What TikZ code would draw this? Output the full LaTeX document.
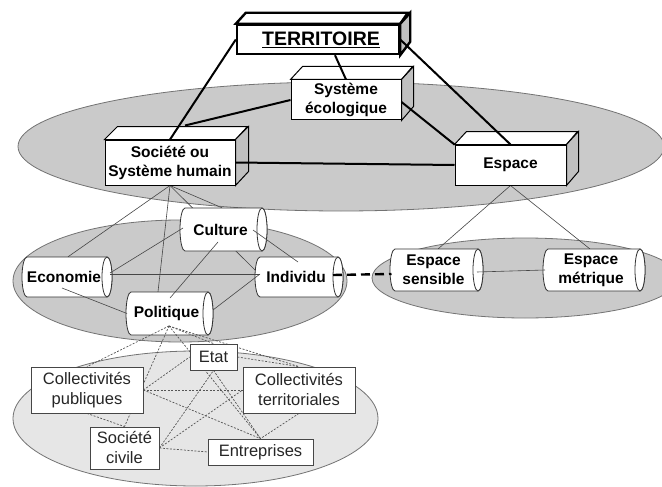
\documentclass[tikz,border=0pt]{standalone}
\usepackage{fontspec}
\setmainfont{Liberation Sans}
\usetikzlibrary{calc}
\pgfdeclarelayer{ellayer}
\pgfdeclarelayer{under}
\pgfdeclarelayer{top}
\pgfsetlayers{ellayer,under,main,top}
\definecolor{ellfill}{RGB}{202,202,202}
\definecolor{ellfillb}{RGB}{230,230,230}
\definecolor{elledge}{RGB}{115,115,115}
\definecolor{sideface}{RGB}{192,192,192}
\definecolor{lngray}{RGB}{70,70,70}
\definecolor{cyledge}{RGB}{50,50,50}
\definecolor{dotgray}{RGB}{85,85,85}
\definecolor{boxedge}{RGB}{70,70,70}
\tikzset{
 ell/.style={draw=elledge, line width=0.8pt, fill=ellfill},
 ellb/.style={draw=elledge, line width=0.8pt, fill=ellfillb},
 cube/.style={draw=black, line width=1pt, fill=white, inner sep=0pt, align=center, font=\bfseries\fontsize{15.5}{19}\selectfont},
 cubethick/.style={cube, line width=2.4pt},
 thickln/.style={draw=black, line width=2pt},
 thinln/.style={draw=lngray, line width=0.6pt},
 cylsh/.style={draw=cyledge, line width=0.8pt, fill=white},
 cyltxt/.style={inner sep=0pt, align=center, font=\bfseries\fontsize{15.5}{19}\selectfont},
 dashln/.style={draw=black, line width=2.4pt, dash pattern=on 9pt off 5pt},
 dotln/.style={draw=dotgray, line width=0.7pt, dash pattern=on 2pt off 1.5pt},
 rbox/.style={draw=boxedge, line width=0.8pt, fill=white, inner sep=0pt, align=center, text=black!85, font=\fontsize{16.5}{20}\selectfont},
}
% 3D box: name, cx, cy, w, h, dx, dy, text, style
\newcommand{\cubebox}[9]{%
 \node[#9, minimum width=#4, minimum height=#5] (#1) at (#2,#3) {#8};
 \draw[#9, fill=white] (#1.north west) -- ++(#6,-#7) -- ++(#4,0) -- (#1.north east) -- cycle;
 \draw[#9, fill=sideface] (#1.north east) -- ++(#6,-#7) -- ++(0,#5) -- (#1.south east) -- cycle;
}
% horizontal cylinder: name, x1, y1, x2, y2, text
\newcommand{\cylnd}[6]{%
 \path[cylsh] ({#2+5},#3) -- ({#4-5},#3) arc[start angle=-90,end angle=90,x radius=5,y radius={(#5-#3)/2}] -- ({#2+5},#5) arc[start angle=90,end angle=270,x radius=5,y radius={(#5-#3)/2}] -- cycle;
 \path[cylsh] ({#4-5},{(#3+#5)/2}) ellipse [x radius=5,y radius={(#5-#3)/2}];
 \node[cyltxt, minimum width={#4-#2-10}, minimum height={#5-#3}] (#1) at ({(#2+#4)/2-3},{(#3+#5)/2}) {#6};
}
\begin{document}
\begin{tikzpicture}[x=1pt,y=-1pt]
\useasboundingbox (0,0) rectangle (662,487);
\begin{pgfonlayer}{ellayer}
 \fill[white] (0,0) rectangle (662,487);
 \draw[ell] (341,146.5) ellipse [x radius=323, y radius=64.5];
 \draw[ell] (180,281) ellipse [x radius=167, y radius=61];
 \draw[ell] (525,278) ellipse [x radius=153, y radius=40];
 \draw[ellb] (195.5,418.5) ellipse [x radius=182.5, y radius=67.5];
\end{pgfonlayer}

% top 3D boxes
\cubebox{terr}{318}{39.5}{162}{29}{10}{11}{{\fontsize{19.5}{22}\selectfont\hspace*{6pt}\underline{TERRITOIRE}}}{cubethick}
\cubebox{seco}{346}{100}{110}{40}{12}{13}{Système\\écologique}{cube}
\cubebox{soc}{170}{162.5}{130}{45}{13}{13}{Société ou\\Système humain}{cube}
\cubebox{esp}{510.5}{165}{111}{40}{12}{13}{Espace}{cube}

% thick connectors
\draw[thickln] (terr.west) -- (soc.north);
\draw[thickln] (terr.east) -- (esp.north);
\draw[thickln] ($(terr.south)+(17,0)$) -- (seco.north);
\draw[thickln] (seco.west) -- ($(soc.north)+(15,-14)$);
\draw[thickln] ($(seco.east)+(0,2)$) -- (esp.north west);
\draw[thickln] (soc.east) -- (esp.west);

% cylinders
\cylnd{cult}{180}{208}{267}{251}{Culture}
\cylnd{eco}{22}{257}{112}{297}{Economie}
\cylnd{indiv}{255}{257}{343}{297}{Individu}
\cylnd{polit}{126}{292}{213}{335}{Politique}
\cylnd{esens}{390}{249}{483}{291}{Espace\\sensible}
\cylnd{emetr}{543}{249}{645}{291}{Espace\\métrique}

% thin connectors under the shapes
\begin{pgfonlayer}{under}
 \draw[thinln] (soc.south) -- ($(eco.north)+(4,0)$);
 \draw[thinln] (soc.south) -- ($(polit.north)+(-8.5,0)$);
 \draw[thinln] (soc.south) -- ($(cult.north)+(1.5,0)$);
 \draw[thinln] (soc.south) -- ($(indiv.center)+(-39,-5)$);
 \draw[thinln] (esp.south) -- ($(esens.center)+(4.5,-21)$);
 \draw[thinln] (esp.south) -- ($(emetr.center)+(-1,-21)$);
\end{pgfonlayer}

% thin connectors over the shapes
\coordinate (hub) at ($(indiv.center)+(-36,-3)$);
\draw[thinln] ($(eco.center)+(46,-3)$) -- (hub);
\draw[thinln] ($(cult.center)+(-37.5,-1.5)$) -- ($(eco.center)+(46,-4)$);
\draw[thinln] ($(cult.center)+(-2.5,12.5)$) -- ($(polit.center)+(3.5,-15.5)$);
\draw[thinln] ($(cult.center)+(32.5,0.5)$) -- ($(indiv.center)+(2,-15)$);
\draw[thinln] ($(eco.center)+(-2,11)$) -- ($(polit.center)+(-39.5,0)$);
\draw[thinln] ($(polit.center)+(46.5,-3.5)$) -- (hub);
\draw[thinln] ($(esens.center)+(43.5,2)$) -- ($(emetr.center)+(-46,0)$);
\draw[dashln] ($(indiv.center)+(37,-2)$) -- ($(esens.center)+(-42,4)$);

% bottom boxes
\begin{pgfonlayer}{top}
 \node[rbox, minimum width=47, minimum height=26] (etat) at (213.5,357) {Etat};
 \node[rbox, minimum width=112, minimum height=46] (cp) at (87,390) {Collectivités\\publiques};
 \node[rbox, minimum width=112, minimum height=46] (ct) at (299,390) {Collectivités\\territoriales};
 \node[rbox, minimum width=69, minimum height=42] (sc) at (124.5,448) {Société\\civile};
 \node[rbox, minimum width=105, minimum height=26] (en) at (260.5,452) {Entreprises};
\end{pgfonlayer}

% dotted connectors
\coordinate (phub) at ($(polit.center)+(2.5,12.5)$);
\draw[dotln] (phub) -- (cp.north);
\draw[dotln] (phub) -- (sc.north);
\draw[dotln] (phub) -- (en.north);
\draw[dotln] (phub) -- (etat.north);
\draw[dotln] (phub) -- (ct.north);
\draw[dotln] (cp.east) -- (ct.west);
\draw[dotln] (cp.east) -- (en.north);
\draw[dotln] (cp.east) -- (etat.west);
\draw[dotln] (cp.south) -- (sc.north);
\draw[dotln] (sc.east) -- (en.west);
\draw[dotln] (sc.east) -- (ct.west);
\draw[dotln] (sc.east) -- (etat.south);
\draw[dotln] (etat.south) -- (en.north);
\draw[dotln] (etat.east) -- (ct.north);
\draw[dotln] (ct.south) -- (en.north);
\end{tikzpicture}
\end{document}
